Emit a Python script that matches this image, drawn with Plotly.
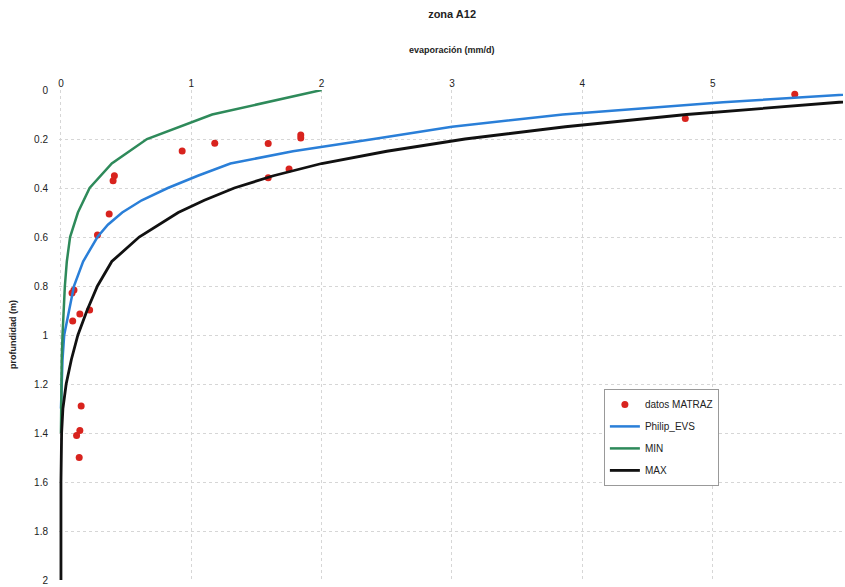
import plotly.graph_objects as go

# measured points (datos MATRAZ)
obs_evap = [5.63, 4.79, 0.93, 1.18, 1.59, 1.84, 1.84, 1.59, 1.75, 0.41, 0.40, 0.37, 0.28,
            0.10, 0.085, 0.145, 0.22, 0.09, 0.155, 0.145, 0.12, 0.14]
obs_depth = [0.017, 0.116, 0.249, 0.217, 0.218, 0.184, 0.196, 0.358, 0.322, 0.350, 0.370, 0.506, 0.592,
             0.816, 0.829, 0.914, 0.898, 0.943, 1.29, 1.39, 1.41, 1.50]

# Philip_EVS curve
philip_depth = [0.0, 0.05, 0.1, 0.15, 0.2, 0.25, 0.3, 0.35, 0.4, 0.45, 0.5, 0.55, 0.6, 0.7, 0.8, 0.9, 1.0, 1.1, 1.2, 1.3]
philip_evap = [6.6, 5.08, 3.85, 3.0, 2.4, 1.78, 1.30, 1.05, 0.82, 0.62, 0.47, 0.36, 0.28, 0.17, 0.10, 0.06, 0.025, 0.012, 0.004, 0.0]

# MIN curve
min_depth = [0.0, 0.1, 0.2, 0.3, 0.4, 0.5, 0.6, 0.7, 0.8, 0.9, 1.0, 1.1, 1.2, 1.3, 1.4]
min_evap = [2.0, 1.16, 0.66, 0.39, 0.22, 0.13, 0.07, 0.045, 0.03, 0.02, 0.012, 0.006, 0.003, 0.001, 0.0]

# MAX curve
max_depth = [0.0, 0.05, 0.1, 0.15, 0.2, 0.25, 0.3, 0.35, 0.4, 0.45, 0.5, 0.6, 0.7, 0.8, 0.9, 1.0, 1.1, 1.2, 1.3, 1.4, 1.6, 2.0]
max_evap = [7.3, 5.97, 4.8, 3.87, 3.1, 2.5, 2.0, 1.63, 1.33, 1.1, 0.9, 0.6, 0.39, 0.28, 0.2, 0.13, 0.08, 0.04, 0.015, 0.005, 0.0, 0.0]

FONT = "Liberation Sans Narrow, Liberation Sans, Arial, sans-serif"

fig = go.Figure()
fig.add_trace(go.Scatter(x=obs_evap, y=obs_depth, mode="markers", name="datos MATRAZ",
                         legendgroup="a", marker=dict(color="#d8231e", size=7)))
fig.add_trace(go.Scatter(x=philip_evap, y=philip_depth, mode="lines", name="Philip_EVS",
                         legendgroup="b", line=dict(color="#2a7fd8", width=2.5)))
fig.add_trace(go.Scatter(x=min_evap, y=min_depth, mode="lines", name="MIN",
                         legendgroup="c", line=dict(color="#2e8a5a", width=2.5)))
fig.add_trace(go.Scatter(x=max_evap, y=max_depth, mode="lines", name="MAX",
                         legendgroup="d", line=dict(color="#111111", width=2.8)))

fig.update_layout(
    width=845, height=587,
    margin=dict(l=59, r=2, t=90, b=7, autoexpand=False),
    paper_bgcolor="white", plot_bgcolor="white",
    font=dict(family=FONT, size=10, color="#222"),
    title=dict(text="<b>zona A12</b>", x=0.535, xanchor="center", y=0.976, yanchor="middle",
               font=dict(size=11, family=FONT, color="#222")),
    showlegend=True,
    legend=dict(x=0.695, y=0.39, xanchor="left", yanchor="top",
                bordercolor="#999", borderwidth=1, bgcolor="white",
                font=dict(size=10, family=FONT, color="#222"),
                itemwidth=30, tracegroupgap=3),
    xaxis=dict(side="top", range=[-0.015, 6], dtick=1, tick0=0, automargin=False,
               showgrid=True, gridcolor="#d6d6d6", griddash="dot", gridwidth=1,
               zeroline=False, showline=False, ticks="",
               tickfont=dict(size=10, family=FONT, color="#222")),
    yaxis=dict(range=[2, 0], dtick=0.2, tick0=0, automargin=False,
               showgrid=True, gridcolor="#d6d6d6", griddash="dot", gridwidth=1,
               zeroline=False, showline=False, ticks="",
               ticklabelstandoff=10,
               tickfont=dict(size=10, family=FONT, color="#222")),
    annotations=[
        dict(text="<b>evaporación (mm/d)</b>", xref="paper", yref="paper",
             x=(452 - 59) / 784, y=(580 - 50) / 490, xanchor="center", yanchor="middle",
             showarrow=False, font=dict(size=9, family=FONT, color="#222")),
        dict(text="<b>profundidad (m)</b>", xref="paper", yref="paper",
             x=(13 - 59) / 784, y=(580 - 335) / 490, xanchor="center", yanchor="middle",
             textangle=-90, showarrow=False, font=dict(size=9, family=FONT, color="#222")),
    ],
)

fig.write_html("out.html", config={"displayModeBar": False},
               post_script="document.body.style.margin='0';")
